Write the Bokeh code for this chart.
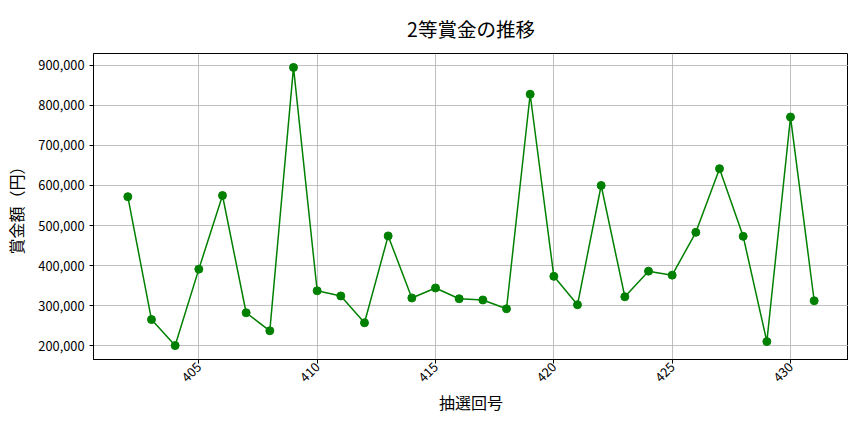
import math
from bokeh.plotting import figure
from bokeh.models import FixedTicker, NumeralTickFormatter, Range1d
from bokeh.embed import file_html
from bokeh.resources import INLINE

draws = [402, 403, 404, 405, 406, 407, 408, 409, 410, 411, 412, 413, 414, 415, 416,
         417, 418, 419, 420, 421, 422, 423, 424, 425, 426, 427, 428, 429, 430, 431]
prizes = [572000, 265000, 200000, 391000, 575000, 282000, 237000, 895000, 337000, 324000,
          257000, 474000, 319000, 344000, 317000, 314000, 292000, 828000, 373000, 302000,
          600000, 322000, 386000, 376000, 483000, 642000, 473000, 210000, 771000, 312000]
x_ticks = [405, 410, 415, 420, 425, 430]
y_ticks = [200000, 300000, 400000, 500000, 600000, 700000, 800000, 900000]

FONT = "Noto Sans CJK JP"

xmin, xmax = min(draws), max(draws)
ymin, ymax = min(prizes), max(prizes)
xpad = (xmax - xmin) * 0.05
ypad = (ymax - ymin) * 0.05

p = figure(width=848, height=416, output_backend="svg", toolbar_location=None,
           title="2等賞金の推移",
           x_range=Range1d(xmin - xpad, xmax + xpad),
           y_range=Range1d(ymin - ypad, ymax + ypad),
           min_border_left=93, min_border_right=0, min_border_top=52, min_border_bottom=56)

p.title.align = "center"
p.title.text_font = FONT
p.title.text_font_size = "19.5px"
p.title.text_font_style = "normal"
p.title.text_color = "black"
p.title.text_line_height = 0.9
p.title.offset = 0
p.title.standoff = 22

p.line(draws, prizes, line_color="#008000", line_width=1.5)
p.scatter(draws, prizes, size=8, fill_color="#008000", line_color="#008000")

p.xaxis.ticker = FixedTicker(ticks=x_ticks)
p.yaxis.ticker = FixedTicker(ticks=y_ticks)
p.yaxis.formatter = NumeralTickFormatter(format="0,0")
p.xaxis.major_label_orientation = math.pi / 4

p.xaxis.axis_label = "抽選回号"
p.yaxis.axis_label = "賞金額（円）"

for ax in (p.xaxis, p.yaxis):
    ax.axis_label_text_font = FONT
    ax.axis_label_text_font_size = "16px"
    ax.axis_label_text_font_style = "normal"
    ax.axis_label_text_color = "black"
    ax.major_label_text_font = FONT
    ax.major_label_text_font_size = "12.8px"
    ax.major_label_text_color = "black"
    ax.axis_line_color = "black"
    ax.major_tick_line_color = "black"
    ax.major_tick_out = 4
    ax.major_tick_in = 0
    ax.minor_tick_line_color = None

p.xaxis.major_label_standoff = 1
p.xaxis.axis_label_standoff = 0
p.yaxis.axis_label_standoff = 7

p.outline_line_color = "black"
p.outline_line_width = 1
p.grid.grid_line_color = "#b0b0b0"
p.grid.grid_line_width = 0.8

open("out.html", "w").write(file_html(p, INLINE))
